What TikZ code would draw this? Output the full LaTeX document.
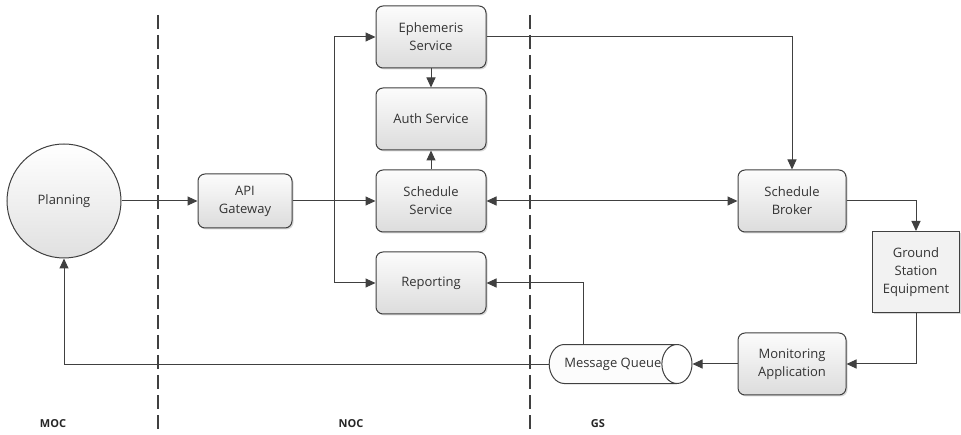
\documentclass[tikz,border=0pt]{standalone}
\usepackage{fontspec}
\setmainfont{Open Sans}
\usetikzlibrary{positioning, arrows.meta, shapes.geometric, shadows, calc}
\definecolor{wire}{HTML}{404040}
\definecolor{boxtop}{HTML}{FCFCFC}
\definecolor{boxbot}{HTML}{DCDCDC}
\definecolor{flat}{HTML}{F2F2F2}

\begin{document}
\begin{tikzpicture}[
    x=1pt, y=-1pt,
    >={Triangle[length=10pt,width=9pt]},
    node distance=19pt and 83pt,
    every node/.style={font=\fontsize{13}{18}\selectfont, text=black!80},
    svc/.style={draw=wire, rounded corners=7pt, line width=1pt,
                top color=boxtop, bottom color=boxbot, align=center,
                minimum width=110pt, minimum height=62pt,
                drop shadow={shadow xshift=1.5pt, shadow yshift=-1.5pt, fill=black!30}},
    hw/.style={draw=wire, line width=1pt, fill=flat, align=center,
               minimum width=87pt, minimum height=81pt,
               drop shadow={shadow xshift=1.5pt, shadow yshift=-1.5pt, fill=black!30}},
    actor/.style={circle, draw=wire, line width=1pt, top color=white, bottom color=black!12,
                  minimum size=114pt, inner sep=0pt},
    queue/.style={cylinder, draw=wire, line width=1pt, aspect=2.4,
                  cylinder uses custom fill, cylinder body fill=boxtop, cylinder end fill=white,
                  minimum width=39pt, minimum height=141pt, inner sep=0pt},
    link/.style={draw=wire, line width=1pt},
    divider/.style={draw=wire, line width=1.3pt, dash pattern=on 14pt off 6pt},
    zone/.style={font=\fontsize{11}{13}\selectfont\bfseries, text=black!85},
]
\useasboundingbox (0,0) rectangle (961,435);

% zone borders
\draw[divider] (158,15) -- (158,435);
\draw[divider] (530,15) -- (530,435);

% NOC services
\node[svc] (ephem) at (431,37) {Ephemeris\\Service};
\node[svc, below=of ephem] (auth) {Auth Service};
\node[svc, below=of auth] (sched) {Schedule\\Service};
\node[svc, below=of sched] (report) {Reporting};
\node[svc, minimum width=94pt, minimum height=54pt, left=of sched] (apigw) {API\\Gateway};

% MOC
\node[actor, left=76pt of apigw] (plan) {Planning};

% GS side
\node[svc, minimum width=108pt, right=251pt of sched] (broker) {Schedule\\Broker};
\node[hw] (gse) at (916,272) {Ground\\Station\\Equipment};
\node[svc, minimum width=108pt, below=100pt of broker] (monitor) {Monitoring\\Application};
\node[queue, left=45pt of monitor] (mq) {Message Queue};

\coordinate (split) at ($(apigw.east)!0.5!(sched.west)$);

\draw[link, ->] (plan) -- (apigw);
\draw[link, ->] (apigw) -- (sched);
\draw[link, ->] (split) |- (ephem.west);
\draw[link, ->] (split) |- (report.west);
\draw[link, ->] (ephem) -- (auth);
\draw[link, ->] (sched) -- (auth);
\draw[link, ->] (ephem.east) -| (broker.north);
\draw[link, <->] (sched) -- (broker);
\draw[link, ->] (broker.east) -| (gse.north);
\draw[link, ->] (gse.south) |- (monitor.east);
\draw[link, ->] (monitor) -- (mq);
\draw[link, ->] ([xshift=-29pt]mq.north) |- (report.east);
\draw[link, ->] (mq.west) -| (plan.south);

% zone names
\node[zone] (moc) at (53,424) {MOC};
\node[zone] (noc) at (351,424) {NOC};
\node[zone] (gs) at (598,424) {GS};

\end{tikzpicture}
\end{document}
